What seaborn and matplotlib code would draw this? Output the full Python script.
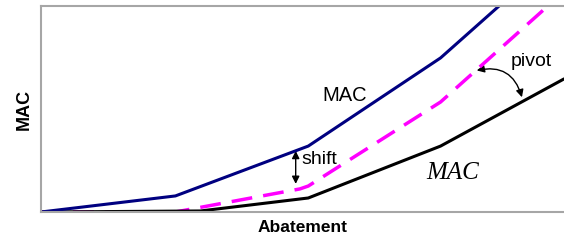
import matplotlib
matplotlib.use("Agg")
import matplotlib.pyplot as plt
from matplotlib.patches import FancyArrowPatch
import seaborn as sns
import pandas as pd

# Curvas de custo marginal de abatimento (unidades arbitrárias 0-100)
abat_azul = [0, 25.7, 51.1, 76.4, 100]
mac_azul = [0, 7.8, 32.0, 74.8, 128]

abat_preto = [0, 30.5, 51.1, 76.4, 100]
mac_preto = [0, 0.5, 6.8, 32.0, 64.6]

abat_magenta = [0, 25.7, 49.5, 51.1, 76.4, 100]
mac_magenta = [0, 0.0, 11.2, 12.6, 53.4, 107]

sns.set_style("white")
plt.rcParams['font.family'] = ['Liberation Sans', 'DejaVu Sans']
plt.rcParams['text.color'] = 'black'
plt.rcParams['axes.labelcolor'] = 'black'

fig = plt.figure(figsize=(5.64, 2.44), dpi=100)
ax = fig.add_axes([41 / 564, 32 / 244, 1 - 41 / 564, 206 / 244])

df_azul = pd.DataFrame({'x': abat_azul, 'y': mac_azul})
df_preto = pd.DataFrame({'x': abat_preto, 'y': mac_preto})
df_mag = pd.DataFrame({'x': abat_magenta, 'y': mac_magenta})

sns.lineplot(data=df_mag, x='x', y='y', ax=ax, color='#FF00FF', lw=2.5,
             sort=False, estimator=None)
ax.lines[-1].set_dashes((6, 3.2))
sns.lineplot(data=df_preto, x='x', y='y', ax=ax, color='black', lw=2.2,
             sort=False, estimator=None)
sns.lineplot(data=df_azul, x='x', y='y', ax=ax, color='#000080', lw=2.2,
             sort=False, estimator=None)

ax.set_xlim(0, 100)
ax.set_ylim(0, 100)
ax.set_xticks([])
ax.set_yticks([])
ax.set_xlabel('Abatement', fontsize=12.5, fontweight='bold', labelpad=6)
ax.set_ylabel('MAC', fontsize=13, fontweight='bold', labelpad=6)

for lado in ['left', 'top', 'bottom']:
    ax.spines[lado].set_color('#A6A6A6')
    ax.spines[lado].set_linewidth(1.5)
ax.spines['right'].set_visible(False)

# Textos
ax.text(58.0, 56.5, 'MAC', fontsize=14.5, ha='center', va='center')
ax.text(49.8, 25.5, 'shift', fontsize=14, ha='left', va='center')
ax.text(93.8, 73.0, 'pivot', fontsize=14, ha='center', va='center')
ax.text(78.8, 18.9, 'MAC', fontsize=18, ha='center', va='center',
        family='Liberation Serif', style='italic')

# Setas
ax.add_patch(FancyArrowPatch((48.7, 31.0), (48.7, 12.3), arrowstyle='<|-|>',
                             mutation_scale=11, color='black', lw=1.0))
ax.add_patch(FancyArrowPatch((82.8, 68.4), (92.1, 54.4), arrowstyle='<|-|>',
                             connectionstyle='arc3,rad=-0.5',
                             mutation_scale=11, color='black', lw=1.0))

fig.savefig('out.png', dpi=100)
